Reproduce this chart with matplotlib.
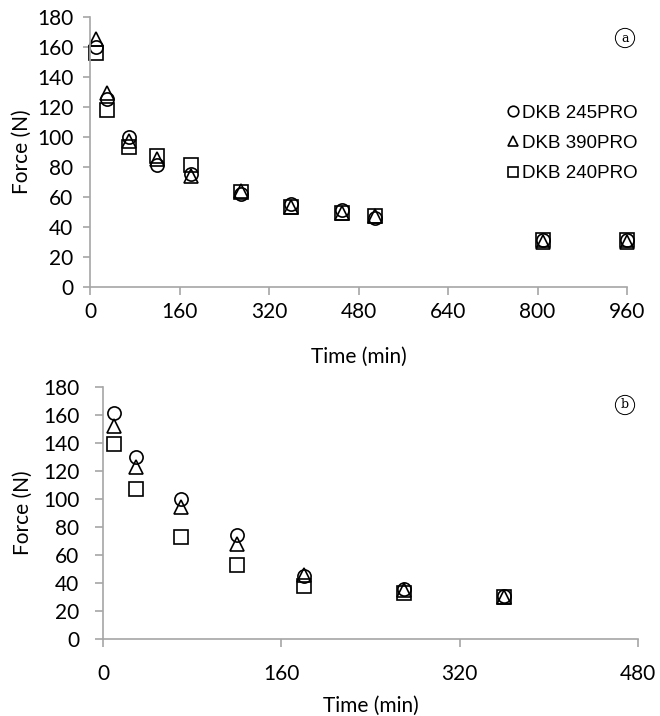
import matplotlib
matplotlib.use('Agg')
import matplotlib.pyplot as plt

# dati
tempi_a = [10, 30, 70, 120, 180, 270, 360, 450, 510, 810, 960]
dkb245_a = [160, 125, 100, 81, 75, 62, 55, 51, 46, 31, 31]
dkb390_a = [165, 129, 97, 85, 74, 64, 53, 49, 47, 30, 30]
dkb240_a = [156, 118, 93, 87, 81, 63, 53, 49, 47, 31, 31]

tempi_b = [10, 30, 70, 120, 180, 270, 360]
dkb245_b = [161, 130, 100, 74, 45, 36, 31]
dkb390_b = [152, 123, 94, 68, 46, 35, 30]
dkb240_b = [139, 107, 73, 53, 38, 33, 30]

nomi = ['DKB 245PRO', 'DKB 390PRO', 'DKB 240PRO']
simboli = ['o', '^', 's']

grigio = '#a6a6a6'
font_assi = 'Lato'
dim = 15


def stile_assi(ax, xmax, passo, pad_x, pad_y, lab_x, lab_y, len_y):
    ax.set_xlim(0, xmax)
    ax.set_ylim(0, 180)
    ax.set_xticks(range(0, xmax + 1, passo))
    ax.set_yticks(range(0, 181, 20))
    for s in ['top', 'right']:
        ax.spines[s].set_visible(False)
    for s in ['left', 'bottom']:
        ax.spines[s].set_color(grigio)
        ax.spines[s].set_linewidth(1.2)
    ax.tick_params(axis='x', direction='out', length=6, width=1.2, color=grigio,
                   pad=pad_x, labelsize=dim)
    ax.tick_params(axis='y', direction='out', length=len_y, width=1.2, color=grigio,
                   pad=pad_y, labelsize=dim)
    for t in ax.get_xticklabels() + ax.get_yticklabels():
        t.set_fontfamily(font_assi)
    ax.set_xlabel('Time (min)', fontsize=dim, fontfamily=font_assi, labelpad=lab_x)
    ax.set_ylabel('Force (N)', fontsize=dim, fontfamily=font_assi, labelpad=lab_y)


fig = plt.figure(figsize=(6.6, 7.16), dpi=100)
ax1 = fig.add_axes([0.1364, 0.5992, 0.8136, 0.3771])
ax2 = fig.add_axes([0.156, 0.1071, 0.8106, 0.3528])

serie_a = [dkb245_a, dkb390_a, dkb240_a]
serie_b = [dkb245_b, dkb390_b, dkb240_b]

for valori, m, n in zip(serie_a, simboli, nomi):
    ax1.plot(tempi_a, valori, linestyle='none', marker=m, markersize=9.5,
             markerfacecolor='none', markeredgecolor='black', markeredgewidth=1.2,
             label=n, clip_on=False)
for valori, m, n in zip(serie_b, simboli, nomi):
    ax2.plot(tempi_b, valori, linestyle='none', marker=m, markersize=9.5,
             markerfacecolor='none', markeredgecolor='black', markeredgewidth=1.2,
             label=n, clip_on=False)

stile_assi(ax1, 960, 160, 5, 7, 18, 4, 5)
stile_assi(ax2, 480, 160, 12, 11, 8, 7, 6)

leg = ax1.legend(loc='upper left', bbox_to_anchor=(499 / 660, 1 - 97 / 716),
                 bbox_transform=fig.transFigure, frameon=False, handlelength=0.7,
                 handletextpad=0.15, labelspacing=0.7, borderaxespad=0,
                 prop={'family': 'Liberation Sans', 'size': 13.5}, markerscale=0.8)

# etichette cerchiate (a) e (b)
for ax, lettera, y in [(ax1, 'a', 38), (ax2, 'b', 405)]:
    fig.text(625 / 660, 1 - y / 716, lettera, ha='center', va='center',
             fontsize=9, fontfamily='DejaVu Serif',
             bbox=dict(boxstyle='circle,pad=0.25', facecolor='white',
                       edgecolor='black', linewidth=0.7))

fig.savefig('out.png', dpi=100)
